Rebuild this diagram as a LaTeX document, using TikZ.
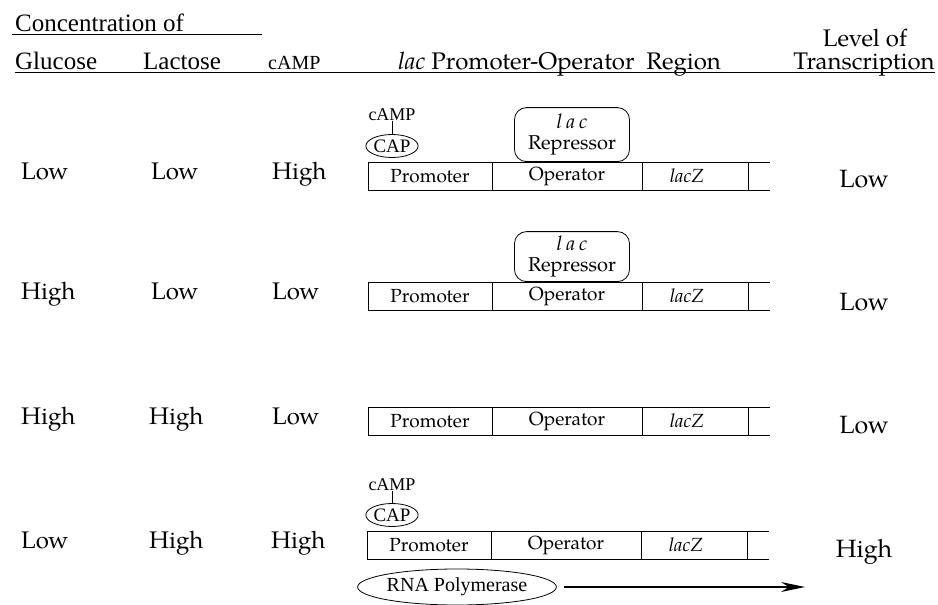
\documentclass[tikz,border=0pt]{standalone}
\usepackage{fontspec}
\setmainfont{TeX Gyre Pagella}
\newfontfamily\timesfont{Liberation Serif}
\usetikzlibrary{shapes.geometric,arrows.meta}

\begin{document}
\begin{tikzpicture}[x=1pt,y=-1pt,
  head/.style={font=\timesfont\fontsize{25}{28}\selectfont, anchor=base west, inner sep=0},
  headp/.style={font=\fontsize{24}{28}\selectfont, anchor=base, inner sep=0},
  val/.style={font=\fontsize{24}{28}\selectfont, anchor=base west, inner sep=0},
  lvl/.style={font=\fontsize{25}{28}\selectfont, anchor=base, inner sep=0},
  seg/.style={draw, rectangle, line width=1pt, minimum height=28pt, inner sep=0, outer sep=0,
    anchor=north west, font=\fontsize{19}{22}\selectfont},
  capell/.style={draw, ellipse, line width=0.8pt, minimum width=51pt, minimum height=23pt, inner sep=0,
    font=\timesfont\fontsize{19}{20}\selectfont},
  small/.style={font=\timesfont\fontsize{18}{20}\selectfont, inner sep=0},
  rep/.style={draw, rounded corners=12pt, line width=0.8pt, minimum width=115pt, anchor=south,
    align=center, inner sep=0, font=\fontsize{20}{21}\selectfont}
]
\useasboundingbox (0,0) rectangle (938,605);

% header
\node[head] (conc) at (15,31) {Concentration of};
\draw (12,34) -- (262,34);
\node[head] (glu) at (15,69) {Glucose};
\node[head] (lac) at (143,69) {Lactose};
\node[head, font=\timesfont\fontsize{20}{24}\selectfont] (campH) at (268,69) {cAMP};
\node[headp, anchor=base west] (region) at (398,69) {\textit{lac} Promoter-Operator\ \ Region};
\node[headp] (level) at (865,46) {Level of};
\node[headp] (trans) at (864,69) {Transcription};
\draw (15,72) -- (935,72);

% row 1
\node[val] (g1) at (21,179) {Low};
\node[val] (l1) at (151,179) {Low};
\node[val] (c1) at (272,179) {High};
\node[lvl] (tr1) at (864,187) {Low};
\node[seg, minimum width=124pt] (pro1) at (368,162) {Promoter};
\node[seg, minimum width=150pt] (op1) at (pro1.north east) {Operator};
\node[seg, minimum width=106pt] (z1) at (op1.north east) {\hspace*{-16pt}\raisebox{-4pt}{\textit{lacZ}}};
\coordinate (t1) at ([xshift=22pt]z1.north east);
\coordinate (b1) at ([xshift=22pt]z1.south east);
\draw (z1.north east) -- (t1);
\draw (z1.south east) -- (b1);
\node[capell] (cap1) at (392,146) {CAP};
\node[small] (camp1) at (392,115) {cAMP};
\draw (camp1) -- (cap1);
\node[rep, minimum height=54pt] (rep1) at (572,162) {{\itshape\addfontfeature{LetterSpace=20}lac}\\Repressor};

% row 2
\node[val] (g2) at (21,299) {High};
\node[val] (l2) at (151,299) {Low};
\node[val] (c2) at (272,299) {Low};
\node[lvl] (tr2) at (864,310) {Low};
\node[seg, minimum width=124pt] (pro2) at (368,282) {Promoter};
\node[seg, minimum width=150pt] (op2) at (pro2.north east) {Operator};
\node[seg, minimum width=106pt] (z2) at (op2.north east) {\hspace*{-16pt}\raisebox{-4pt}{\textit{lacZ}}};
\coordinate (t2) at ([xshift=22pt]z2.north east);
\coordinate (b2) at ([xshift=22pt]z2.south east);
\draw (z2.north east) -- (t2);
\draw (z2.south east) -- (b2);
\node[rep, minimum height=50pt] (rep2) at (572,282) {{\itshape\addfontfeature{LetterSpace=20}lac}\\Repressor};

% row 3
\node[val] (g3) at (21,424) {High};
\node[val] (l3) at (149,424) {High};
\node[val] (c3) at (272,424) {Low};
\node[lvl] (tr3) at (864,433) {Low};
\node[seg, minimum width=124pt] (pro3) at (368,407) {Promoter};
\node[seg, minimum width=150pt] (op3) at (pro3.north east) {Operator};
\node[seg, minimum width=106pt] (z3) at (op3.north east) {\hspace*{-16pt}\raisebox{-4pt}{\textit{lacZ}}};
\coordinate (t3) at ([xshift=22pt]z3.north east);
\coordinate (b3) at ([xshift=22pt]z3.south east);
\draw (z3.north east) -- (t3);
\draw (z3.south east) -- (b3);

% row 4
\node[val] (g4) at (21,548) {Low};
\node[val] (l4) at (149,548) {High};
\node[val] (c4) at (271,548) {High};
\node[lvl] (tr4) at (864,557) {High};
\node[seg, minimum width=124pt] (pro4) at (367,531) {Promoter};
\node[seg, minimum width=150pt] (op4) at (pro4.north east) {Operator};
\node[seg, minimum width=106pt] (z4) at (op4.north east) {\hspace*{-16pt}\raisebox{-4pt}{\textit{lacZ}}};
\coordinate (t4) at ([xshift=22pt]z4.north east);
\coordinate (b4) at ([xshift=22pt]z4.south east);
\draw (z4.north east) -- (t4);
\draw (z4.south east) -- (b4);
\node[capell] (cap4) at (392,515) {CAP};
\node[small] (camp4) at (392,485) {cAMP};
\draw (camp4) -- (cap4);
\node[capell, minimum width=165pt, minimum height=36pt, font=\timesfont\fontsize{20}{22}\selectfont] (pol) at (457,587) {RNA Polymerase};
\coordinate (tip) at (805,587);
\draw[line width=1.2pt, -{Stealth[length=24pt,width=10pt]}] ([xshift=7pt]pol.east) -- (tip);
\end{tikzpicture}
\end{document}
